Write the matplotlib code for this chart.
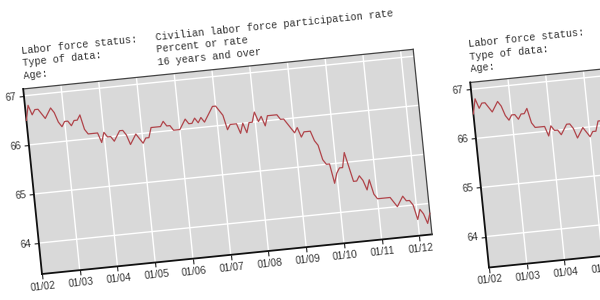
import numpy as np
import matplotlib
matplotlib.use("Agg")
import matplotlib.pyplot as plt
from matplotlib.transforms import Affine2D
from mpl_toolkits.axisartist import floating_axes
from mpl_toolkits.axisartist.grid_finder import FixedLocator, DictFormatter

# Civilian labor force participation rate, 16 years and over, monthly Jan 2002 - May 2012
values = [
    66.5, 66.8, 66.6, 66.7, 66.7, 66.6, 66.5, 66.6, 66.7, 66.6, 66.4, 66.3,  # 2002
    66.4, 66.4, 66.3, 66.4, 66.4, 66.5, 66.2, 66.1, 66.1, 66.1, 66.1, 65.9,  # 2003
    66.1, 66.0, 66.0, 65.9, 66.0, 66.1, 66.1, 66.0, 65.8, 65.9, 66.0, 65.9,  # 2004
    65.8, 65.9, 65.9, 66.1, 66.1, 66.1, 66.1, 66.2, 66.1, 66.1, 66.0, 66.0,  # 2005
    66.0, 66.1, 66.2, 66.1, 66.1, 66.2, 66.1, 66.2, 66.1, 66.2, 66.3, 66.4,  # 2006
    66.4, 66.3, 66.2, 65.9, 66.0, 66.0, 66.0, 65.8, 66.0, 65.8, 66.0, 66.0,  # 2007
    66.2, 66.0, 66.1, 65.9, 66.1, 66.1, 66.1, 66.1, 66.0, 66.0, 65.9, 65.8,  # 2008
    65.7, 65.8, 65.6, 65.7, 65.7, 65.7, 65.5, 65.4, 65.1, 65.0, 65.0, 64.6,  # 2009
    64.8, 64.9, 64.9, 65.2, 64.9, 64.6, 64.6, 64.7, 64.6, 64.4, 64.6, 64.3,  # 2010
    64.2, 64.2, 64.2, 64.2, 64.2, 64.1, 64.0, 64.1, 64.2, 64.1, 64.1, 64.0,  # 2011
    63.7, 63.9, 63.8, 63.6, 63.8,                                            # 2012
]
months = np.arange(len(values))

year_labels = ['01/02', '01/03', '01/04', '01/05', '01/06', '01/07',
               '01/08', '01/09', '01/10', '01/11', '01/12']
year_ticks = [12 * i for i in range(len(year_labels))]
y_ticks = [64, 65, 66, 67]

header_names = ['Labor force status:', 'Type of data:', 'Age:']
header_values = ['Civilian labor force participation rate', 'Percent or rate',
                 '16 years and over']

# geometry of the tilted picture (pixels)
FIG_W, FIG_H = 600, 300
ANGLE = 5.8
PLOT_W, PLOT_H = 392, 186
XMIN, XMAX = 0, 124
YMIN, YMAX = 63.37, 67.14

LINE_COLOR = '#b0444a'
BG_COLOR = '#d9d9d9'
TEXT_COLOR = '#333333'

fig = plt.figure(figsize=(FIG_W / 100, FIG_H / 100), dpi=100)


def draw_chart(corner_x, corner_y):
    # corner_x, corner_y: bottom-left corner of the plot area, pixels from top-left of image
    sx = PLOT_W / (XMAX - XMIN)
    sy = PLOT_H / (YMAX - YMIN)
    tr = Affine2D().translate(-XMIN, -YMIN).scale(sx, sy).rotate_deg(ANGLE)

    grid_helper = floating_axes.GridHelperCurveLinear(
        tr, extremes=(XMIN, XMAX, YMIN, YMAX),
        grid_locator1=FixedLocator(year_ticks),
        tick_formatter1=DictFormatter(dict(zip(year_ticks, year_labels))),
        grid_locator2=FixedLocator(y_ticks),
        tick_formatter2=DictFormatter({v: str(v) for v in y_ticks}))

    # bounding box of the rotated plot area (floating axes pad it by 2%)
    a = np.radians(ANGLE)
    bw = PLOT_W * np.cos(a) + PLOT_H * np.sin(a)
    bh = PLOT_W * np.sin(a) + PLOT_H * np.cos(a)
    cx = (PLOT_W * np.cos(a) - PLOT_H * np.sin(a)) / 2
    cy = bh / 2
    ox, oy = corner_x, FIG_H - corner_y
    left = ox + cx - 1.02 * bw / 2
    bottom = oy + cy - 1.02 * bh / 2
    rect = [left / FIG_W, bottom / FIG_H, 1.02 * bw / FIG_W, 1.02 * bh / FIG_H]

    ax = fig.add_axes(rect, axes_class=floating_axes.FloatingAxes,
                      grid_helper=grid_helper)
    ax.patch.set_facecolor(BG_COLOR)
    ax.grid(True, color='white', linewidth=1.0)

    for side in ['left', 'bottom']:
        axis = ax.axis[side]
        axis.line.set_linewidth(1.3)
        axis.line.set_color('#111111')
        axis.major_ticks.set_tick_out(True)
        axis.major_ticks.set_ticksize(3.5)
        axis.major_ticks.set_color('#222222')
        axis.major_ticklabels.set_fontsize(7.3)
        axis.major_ticklabels.set_color(TEXT_COLOR)
        axis.major_ticklabels.set_fontfamily('Liberation Sans')
        axis.major_ticklabels.set_pad(2)
    for side in ['top', 'right']:
        axis = ax.axis[side]
        axis.line.set_linewidth(0.9)
        axis.line.set_color('#444444')
        axis.toggle(ticks=False, ticklabels=False)

    aux = ax.get_aux_axes(tr)
    aux.plot(months, values, color=LINE_COLOR, linewidth=0.9, zorder=5)

    # header block above the plot, offsets in pixels from the top-left corner
    for i, (name, val) in enumerate(zip(header_names, header_values)):
        dy = 35 - 12.4 * i
        aux.text(XMIN + 2 / sx, YMAX + dy / sy, f"{name:<22}{val}",
                 rotation=ANGLE, rotation_mode='anchor', ha='left', va='baseline',
                 fontfamily='Liberation Mono', fontsize=7.4, color=TEXT_COLOR)
    return ax


draw_chart(42, 274)
draw_chart(42 + 447, 274 - 6.5)

fig.savefig('out.png', dpi=100, facecolor='white')
